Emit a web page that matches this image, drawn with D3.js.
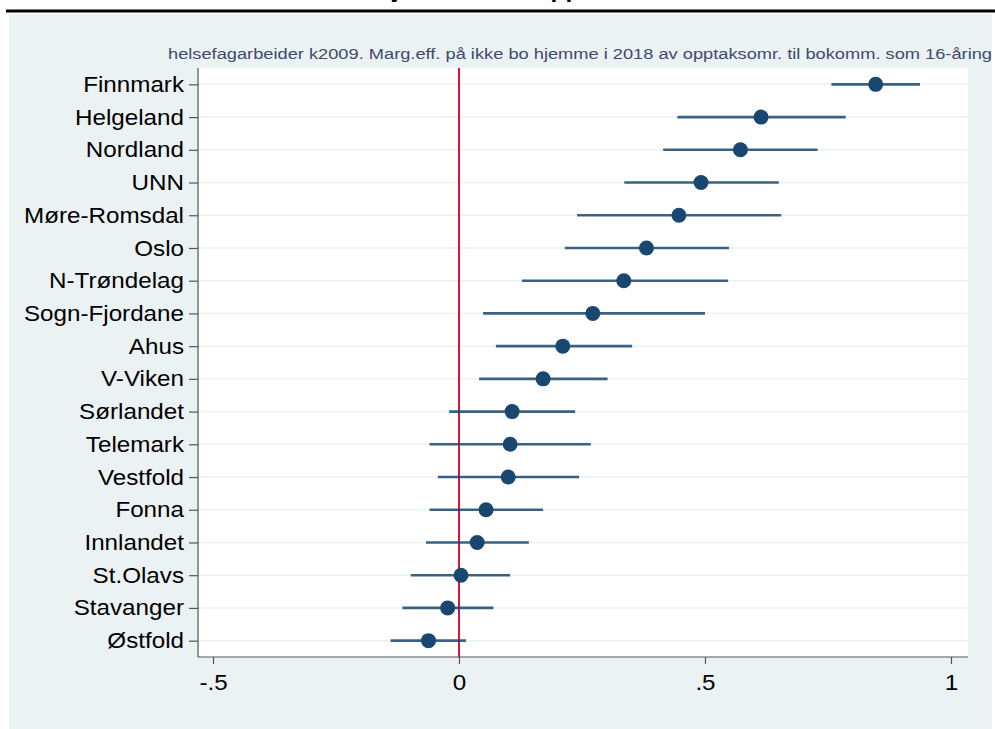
<!DOCTYPE html>
<html lang="no">
  <head>
    <meta charset="UTF-8">
    <title>Marg.eff.</title>
    <script src="https://cdn.jsdelivr.net/npm/d3@7"></script>
    <style>
      html, body {
        margin: 0;
        padding: 0;
        background: #fff;
      }
      body {
        font-family: 'Liberation Sans', Arial, sans-serif;
      }
      svg {
        display: block;
      }
    </style>
  </head>
  <body>
    <script>
      // opptaksområder, øverst til nederst
      const regions = ["Finnmark", "Helgeland", "Nordland", "UNN", "Møre-Romsdal", "Oslo",
        "N-Trøndelag", "Sogn-Fjordane", "Ahus", "V-Viken", "Sørlandet", "Telemark",
        "Vestfold", "Fonna", "Innlandet", "St.Olavs", "Stavanger", "Østfold"];
      const margEff = [0.847, 0.614, 0.572, 0.492, 0.447, 0.381, 0.335, 0.272, 0.211,
        0.171, 0.108, 0.104, 0.100, 0.055, 0.037, 0.004, -0.023, -0.062];
      const ciLow = [0.757, 0.444, 0.415, 0.336, 0.240, 0.215, 0.128, 0.049, 0.075,
        0.041, -0.020, -0.060, -0.043, -0.060, -0.067, -0.098, -0.115, -0.139];
      const ciHigh = [0.937, 0.786, 0.729, 0.650, 0.655, 0.549, 0.547, 0.500, 0.352,
        0.302, 0.236, 0.268, 0.244, 0.171, 0.142, 0.104, 0.070, 0.014];
      const xTicks = [-0.5, 0, 0.5, 1];
      const xTickLabels = ["-.5", "0", ".5", "1"];
      const subtitle = "helsefagarbeider k2009. Marg.eff. på ikke bo hjemme i 2018 av opptaksomr. til bokomm. som 16-åring";
      const title = "Andel som ikke bor hjemme etter opptaksområde";

      const data = regions.map((r, i) => ({ name: r, est: margEff[i], lo: ciLow[i], hi: ciHigh[i] }));

      const W = 995, H = 729;
      const plot = { left: 198, right: 968, top: 68, bottom: 657 };
      const navy = "#1a476f";
      const stretch = 1.1; // Stata-teksten er litt bredere

      const svg = d3.select("body").append("svg")
        .attr("width", W)
        .attr("height", H);

      // bakgrunn
      svg.append("rect")
        .attr("x", 9).attr("y", 14)
        .attr("width", 983).attr("height", 715)
        .attr("fill", "#eaf2f3");

      // avskåret tittel og linje øverst
      svg.append("text")
        .attr("x", 146).attr("y", -3)
        .attr("font-size", 22)
        .attr("font-weight", "bold")
        .attr("fill", "#000")
        .attr("textLength", 571)
        .attr("lengthAdjust", "spacingAndGlyphs")
        .text(title);
      svg.append("rect")
        .attr("x", 6).attr("y", 9.5)
        .attr("width", 989).attr("height", 3)
        .attr("fill", "#000");

      svg.append("rect")
        .attr("x", plot.left).attr("y", plot.top)
        .attr("width", plot.right - plot.left)
        .attr("height", plot.bottom - plot.top)
        .attr("fill", "#fff");

      const x = d3.scaleLinear().domain([-0.5305, 1.0346]).range([plot.left, plot.right]);
      const y = d3.scalePoint().domain(regions).range([plot.top, plot.bottom]).padding(0.5);

      // rutenett
      svg.append("g")
        .selectAll("line")
        .data(regions)
        .join("line")
        .attr("x1", plot.left).attr("x2", plot.right)
        .attr("y1", d => y(d)).attr("y2", d => y(d))
        .attr("stroke", "#eaf2f3")
        .attr("stroke-width", 1.5);

      // referanselinje ved 0
      svg.append("line")
        .attr("x1", x(0)).attr("x2", x(0))
        .attr("y1", plot.top).attr("y2", plot.bottom)
        .attr("stroke", "#d4153e")
        .attr("stroke-width", 2);

      // konfidensintervall
      svg.append("g")
        .selectAll("line")
        .data(data)
        .join("line")
        .attr("x1", d => x(d.lo)).attr("x2", d => x(d.hi))
        .attr("y1", d => y(d.name)).attr("y2", d => y(d.name))
        .attr("stroke", navy)
        .attr("stroke-opacity", 0.85)
        .attr("stroke-width", 2.6);

      svg.append("g")
        .selectAll("circle")
        .data(data)
        .join("circle")
        .attr("cx", d => x(d.est))
        .attr("cy", d => y(d.name))
        .attr("r", 7.5)
        .attr("fill", navy);

      // akser
      const yAxis = svg.append("g")
        .attr("transform", `translate(${plot.left},0)`)
        .call(d3.axisLeft(y).tickSize(9).tickPadding(5));
      const xAxis = svg.append("g")
        .attr("transform", `translate(0,${plot.bottom})`)
        .call(d3.axisBottom(x).tickValues(xTicks)
          .tickFormat((d, i) => xTickLabels[i]).tickSize(7).tickPadding(10));

      [yAxis, xAxis].forEach(g => {
        g.select(".domain").attr("stroke", "#555").attr("stroke-width", 1.2);
        g.selectAll(".tick line").attr("stroke", "#555").attr("stroke-width", 1.2);
        g.selectAll(".tick text")
          .attr("fill", "#000")
          .attr("font-family", "'Liberation Sans', Arial, sans-serif")
          .attr("font-size", 22)
          .each(function() {
            const w = this.getComputedTextLength();
            d3.select(this)
              .attr("textLength", w * stretch)
              .attr("lengthAdjust", "spacingAndGlyphs");
          });
      });
      yAxis.select(".domain").attr("d", `M0,${plot.top}V${plot.bottom}`);
      xAxis.select(".domain").attr("d", `M${plot.left},0H${plot.right}`);

      // undertittel
      svg.append("text")
        .attr("x", 168).attr("y", 59)
        .attr("font-size", 15.5)
        .attr("fill", "#3e4a6b")
        .attr("textLength", 824)
        .attr("lengthAdjust", "spacingAndGlyphs")
        .text(subtitle);
    </script>
  </body>
</html>
